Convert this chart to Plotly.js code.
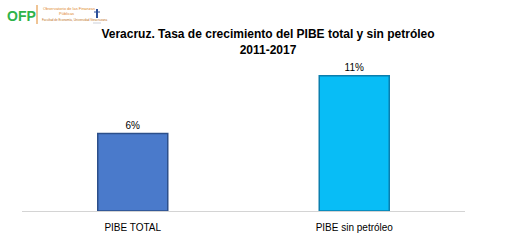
<!DOCTYPE html>
<html>
<head>
<meta charset="utf-8">
<script src="https://cdn.plot.ly/plotly-3.0.1.min.js"></script>
<style>html,body{margin:0;padding:0;background:#fff;}#chart{width:514px;height:245px;}</style>
</head>
<body>
<div id="chart"></div>
<script>
const categories = ["PIBE TOTAL", "PIBE sin petróleo"];
const values = [6.3, 11.0];
const barColors = ["#4a7acb", "#08bdf6"];
const borderColors = ["#2c4f8a", "#0a7fae"];
const titleText = "<b>Veracruz. Tasa de crecimiento del PIBE total y sin petróleo</b><br><b>2011-2017</b>";

const W = 514, H = 245;
const L = 22, R = 465, T = 39, B = 211;
// pixel -> paper helpers for decorative logo
const px = x => (x - L) / (R - L);
const py = y => (B - y) / (B - T);
const ff = "Liberation Sans, Arial, sans-serif";

const trace = {
  type: "bar",
  x: categories,
  y: values,
  marker: { color: barColors, line: { color: borderColors, width: 1.5 } },
  texttemplate: "%{y:.0f}%",
  textposition: "outside",
  cliponaxis: false,
  textfont: { family: ff, size: 10, color: "#000" },
  hoverinfo: "skip"
};

function logoText(t, x, y, size, color) {
  return { text: t, xref: "paper", yref: "paper", x: px(x), y: py(y),
    xanchor: "left", yanchor: "middle", showarrow: false,
    font: { family: ff, size: size, color: color } };
}

const layout = {
  width: W, height: H,
  margin: { l: L, r: W - R, t: T, b: H - B, pad: 0 },
  paper_bgcolor: "#fff", plot_bgcolor: "#fff",
  showlegend: false,
  bargap: 0.684,
  title: {
    text: titleText,
    font: { family: ff, size: 12, color: "#000" },
    x: 268 / W, xanchor: "center",
    y: 1 - 38 / H, yanchor: "middle", yref: "container"
  },
  xaxis: {
    showgrid: false, zeroline: false,
    showline: true, linecolor: "#d4d4d4", linewidth: 1,
    ticks: "", ticklabelstandoff: 7,
    tickfont: { family: ff, size: 10, color: "#000" },
    fixedrange: true
  },
  yaxis: {
    range: [0, 14], visible: false, showgrid: false, zeroline: false, fixedrange: true
  },
  annotations: [
    { text: "<b>OFP</b>", xref: "paper", yref: "paper", x: px(5), y: py(16),
      xanchor: "left", yanchor: "middle", showarrow: false,
      font: { family: ff, size: 14, color: "#2fb34a" } },
    logoText("Observatorio de las Finanzas", 41, 9, 4, "#e0892a"),
    logoText("Públicas", 57, 14, 4, "#e0892a"),
    logoText("Facultad de Economía, Universidad Veracruzana", 40, 20, 3, "#c07020")
  ],
  shapes: [
    { type: "line", xref: "paper", yref: "paper", x0: px(37), x1: px(37), y0: py(5), y1: py(24),
      line: { color: "#e0892a", width: 1 } },
    { type: "rect", xref: "paper", yref: "paper", x0: px(96), x1: px(98), y0: py(9), y1: py(18),
      fillcolor: "#2a4f9a", line: { width: 0 } },
    { type: "line", xref: "paper", yref: "paper", x0: px(94), x1: px(100), y0: py(12), y1: py(12),
      line: { color: "#2a4f9a", width: 1 } },
    { type: "line", xref: "paper", yref: "paper", x0: px(93), x1: px(101), y0: py(23), y1: py(23),
      line: { color: "#9aa0b0", width: 0.5 } }
  ]
};

Plotly.newPlot("chart", [trace], layout, { staticPlot: true, displayModeBar: false });
</script>
</body>
</html>
